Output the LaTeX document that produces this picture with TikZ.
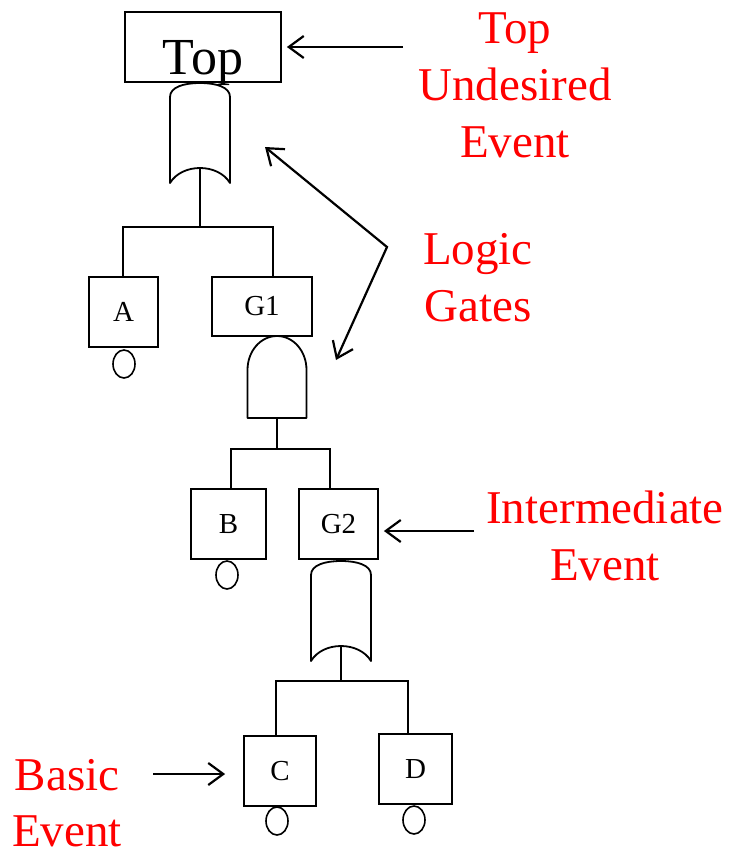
\documentclass[tikz,border=0pt]{standalone}
\usepackage{fontspec}
\setmainfont{Liberation Serif}
\usetikzlibrary{arrows.meta,shapes.geometric,calc}
\tikzset{
  box/.style={draw, line width=1.8pt, inner sep=0pt, font=\fontsize{29}{32}\selectfont},
  basic/.style={draw, ellipse, line width=1.6pt, inner sep=0pt, minimum width=22pt, minimum height=28pt},
  wire/.style={line width=2pt},
  gate/.style={line width=1.8pt, line join=round},
  redtext/.style={text=red, inner sep=0pt, align=center, font=\fontsize{47}{57}\selectfont},
  arr/.style={line width=2.2pt, -{Straight Barb[length=15pt,width=22pt]}},
  dblarr/.style={line width=2.2pt, {Straight Barb[length=15pt,width=22pt]}-{Straight Barb[length=15pt,width=22pt]}},
  orgate/.pic={
    \draw[gate] (-30,100) -- (-30,14) .. controls (-30,4) and (-16,0) .. (0,0)
      .. controls (16,0) and (30,4) .. (30,14) -- (30,100)
      .. controls (24,90) and (12,85) .. (0,85)
      .. controls (-12,85) and (-24,90) .. (-30,100) -- cycle;
    \coordinate (-out) at (0,85);
  },
  andgate/.pic={
    \draw[gate] (-29.5,82) -- (-29.5,34) .. controls (-29.5,15) and (-16.3,0) .. (0,0)
      .. controls (16.3,0) and (29.5,15) .. (29.5,34) -- (29.5,82) -- cycle;
    \coordinate (-out) at (0,82);
  }
}
\begin{document}
\begin{tikzpicture}[x=1pt,y=-1pt]
\useasboundingbox (0,0) rectangle (730,857);

% event boxes
\node[box, minimum width=156pt, minimum height=70pt] (top) at (203,47) {};
\node[anchor=base, inner sep=0pt, font=\fontsize{52}{60}\selectfont] (toptxt) at (203,74) {Top};
\node[box, minimum width=69pt, minimum height=70pt] (A) at (123.5,312) {A};
\node[box, minimum width=100pt, minimum height=59pt] (G1) at (262,306.5) {G1};
\node[box, minimum width=75pt, minimum height=70pt] (B) at (228.5,524) {B};
\node[box, minimum width=79pt, minimum height=70pt] (G2) at (338.5,524) {G2};
\node[box, minimum width=72pt, minimum height=70pt] (C) at (280,771) {C};
\node[box, minimum width=73pt, minimum height=70pt] (D) at (415.5,769) {D};

% basic event circles
\node[basic] (eA) at (124,364) {};
\node[basic] (eB) at (227,575) {};
\node[basic] (eC) at (277,821) {};
\node[basic] (eD) at (414,820) {};

% gates
\pic (or1) at (200,83) {orgate};
\pic (and1) at (277,336) {andgate};
\pic (or2) at (341,561) {orgate};

% connectors
\coordinate (b1l) at (123,227);
\coordinate (b1r) at (273,227);
\draw[wire] (or1-out) -- (or1-out |- b1l);
\draw[wire] (b1l |- A.north) -- (b1l) -- (b1r) -- (b1r |- G1.north);

\coordinate (b2l) at (231,449);
\coordinate (b2r) at (330,449);
\draw[wire] (and1-out) -- (and1-out |- b2l);
\draw[wire] (b2l |- B.north) -- (b2l) -- (b2r) -- (b2r |- G2.north);

\coordinate (b3l) at (276,681);
\coordinate (b3r) at (408,681);
\draw[wire] (or2-out) -- (or2-out |- b3l);
\draw[wire] (b3l |- C.north) -- (b3l) -- (b3r) -- (b3r |- D.north);

% annotations
\node[redtext, anchor=north] (lblTop) at (515,13) {Top\\Undesired\\Event};
\node[redtext, anchor=north] (lblGates) at (478,233) {Logic\\Gates};
\node[redtext, anchor=north] (lblInter) at (605,491) {Intermediate\\Event};
\node[redtext, anchor=north, font=\fontsize{47}{56}\selectfont] (lblBasic) at (67,759) {Basic\\Event};

\coordinate (a1) at (403,47);
\draw[arr, shorten >=5pt] (a1) -- (a1 -| top.east);

\coordinate (gv) at (387,247);
\coordinate (gt1) at (265,147);
\coordinate (gt2) at (336,360);
\draw[dblarr, line join=miter] (gt1) -- (gv) -- (gt2);

\coordinate (a3) at (474,531);
\draw[arr, shorten >=5pt] (a3) -- (a3 -| G2.east);

\coordinate (a4) at (153,774);
\draw[arr, shorten >=18pt] (a4) -- (a4 -| C.west);
\end{tikzpicture}
\end{document}
